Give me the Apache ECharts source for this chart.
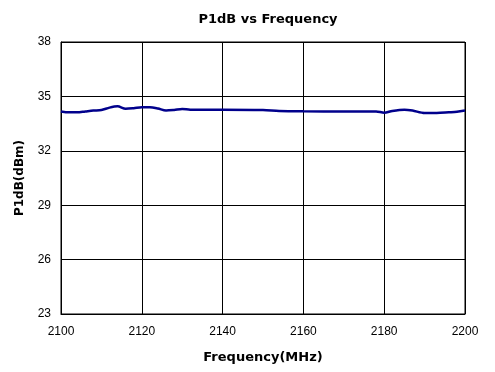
<!DOCTYPE html>
<html>
<head>
<meta charset="utf-8">
<script src="https://cdn.jsdelivr.net/npm/echarts@6/dist/echarts.min.js"></script>
<style>
  html, body { margin: 0; padding: 0; background: #fff; }
  #chart { width: 495px; height: 372px; }
</style>
</head>
<body>
<div id="chart"></div>
<script>
// frequency (MHz) and P1dB (dBm)
var freqs = [2100, 2102, 2104, 2106, 2108, 2110, 2112, 2114, 2116, 2118, 2120, 2122, 2124, 2126, 2128, 2130, 2132,
    2140, 2150, 2154, 2160, 2170, 2178, 2180, 2182, 2185, 2187, 2190, 2193, 2196, 2198, 2200];
var p1db = [34.17, 34.12, 34.12, 34.17, 34.22, 34.25, 34.38, 34.45, 34.32, 34.35, 34.40, 34.40, 34.33, 34.22, 34.25, 34.30, 34.27,
    34.27, 34.25, 34.20, 34.18, 34.17, 34.17, 34.10, 34.20, 34.27, 34.22, 34.08, 34.08, 34.12, 34.15, 34.22];
var yMin = 23, yMax = 38, yStep = 3;
var xMin = 2100, xMax = 2200, xStep = 20;

var points = [];
for (var i = 0; i < freqs.length; i++) {
    points.push([freqs[i], p1db[i]]);
}

var myChart = echarts.init(document.getElementById('chart'));
var labelFont = {color: '#000', fontSize: 12, fontFamily: 'Liberation Sans, Arial, sans-serif'};
var option = {
    animation: false,
    title: {
        text: 'P1dB vs Frequency',
        left: 263,
        top: 8,
        textAlign: 'center',
        textStyle: {fontSize: 13, fontWeight: 'bold', color: '#000', fontFamily: 'DejaVu Sans, sans-serif'}
    },
    grid: {left: 61, right: 30, top: 42, bottom: 58, show: true, borderColor: '#000', borderWidth: 1},
    xAxis: {
        type: 'value',
        min: xMin, max: xMax, interval: xStep,
        name: 'Frequency(MHz)',
        nameLocation: 'middle',
        nameGap: 37,
        nameTextStyle: {fontSize: 13, fontWeight: 'bold', color: '#000', fontFamily: 'DejaVu Sans, sans-serif'},
        axisLine: {lineStyle: {color: '#000'}},
        axisTick: {show: false},
        axisLabel: Object.assign({margin: 12, formatter: function (v) { return String(v); }}, labelFont),
        splitLine: {lineStyle: {color: '#000', width: 1}}
    },
    yAxis: {
        type: 'value',
        min: yMin, max: yMax, interval: yStep,
        name: 'P1dB(dBm)',
        nameLocation: 'middle',
        nameGap: 35,
        nameTextStyle: {fontSize: 12, fontWeight: 'bold', color: '#000', fontFamily: 'DejaVu Sans, sans-serif'},
        axisLine: {show: true, lineStyle: {color: '#000'}},
        axisTick: {show: false},
        axisLabel: Object.assign({margin: 10}, labelFont),
        splitLine: {lineStyle: {color: '#000', width: 1}}
    },
    series: [{
        type: 'line',
        data: points,
        showSymbol: false,
        smooth: 0.3,
        lineStyle: {color: '#00008c', width: 2.5}
    }]
};
myChart.setOption(option);
</script>
</body>
</html>
